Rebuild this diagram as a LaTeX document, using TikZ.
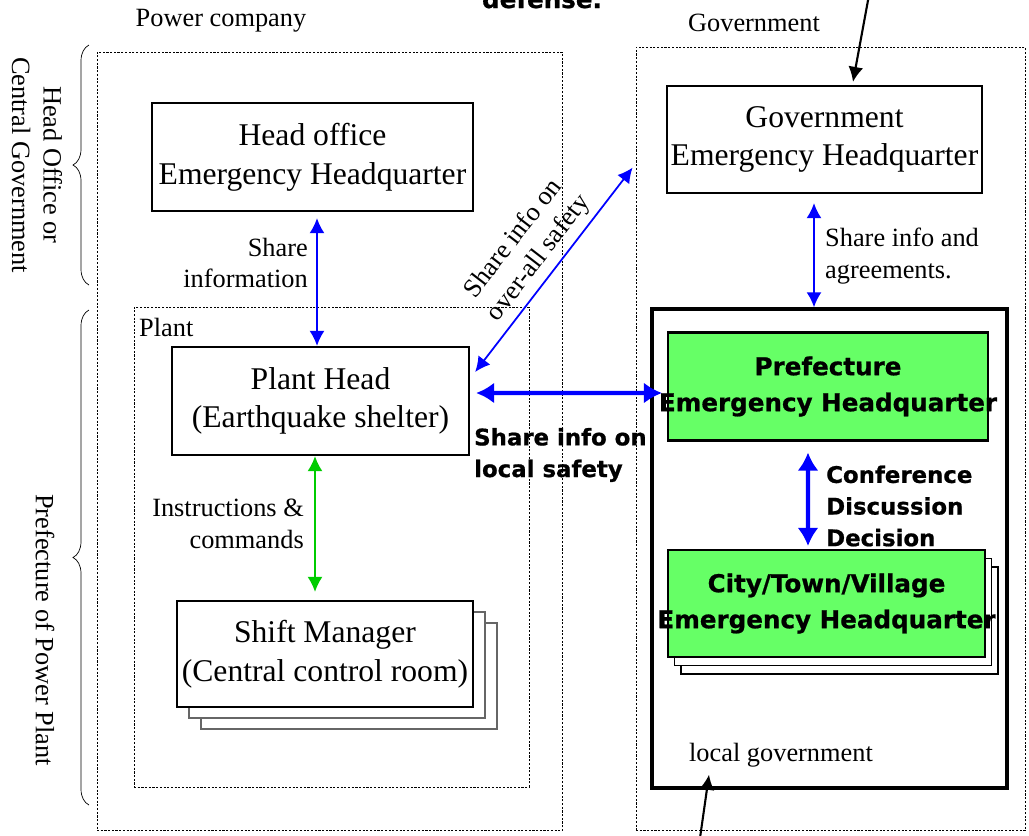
\documentclass[tikz,border=0pt]{standalone}
\usepackage{fontspec}
\setmainfont{Liberation Serif}
\newfontfamily\heavyfont{DejaVu Sans}[BoldFeatures={FakeBold=0.8}]
\usetikzlibrary{arrows.meta,decorations.pathreplacing,shadows}

\definecolor{sharecolor}{RGB}{0,0,255}
\definecolor{ordercolor}{RGB}{0,204,0}
\definecolor{hqgreen}{RGB}{102,255,102}

\newcommand{\hqfont}{\fontsize{18}{22}\selectfont}
\newcommand{\notefont}{\fontsize{15}{18}\selectfont}
\newcommand{\boldnote}{\heavyfont\bfseries\fontsize{13}{18}\selectfont}
\newcommand{\boldhq}{\heavyfont\bfseries\fontsize{14}{20.5}\selectfont}

\begin{document}
\begin{tikzpicture}[x=0.02cm, y=-0.02cm,
    >={Latex[length=0.3cm,width=0.3cm]},
    hqbox/.style={draw, line width=1.3pt, minimum height=2.16cm, align=center, font=\hqfont, inner sep=0pt},
    greenbox/.style={draw, fill=hqgreen, line width=1.2pt, minimum width=6.4cm, minimum height=2.16cm, align=center, font=\boldhq, inner sep=0pt},
    region/.style={draw, line width=0.5pt, dash pattern=on 1.2pt off 0.9pt, inner sep=0pt},
    note/.style={font=\notefont},
    share/.style={sharecolor, line width=1pt},
    bigshare/.style={sharecolor, line width=2.3pt, >={Latex[length=0.36cm,width=0.42cm]}},
    order/.style={ordercolor, line width=1pt},
    pointer/.style={black, line width=1.2pt}]
    \useasboundingbox (0,0) rectangle (1029,836);

    % Regions
    \node[region, minimum width=9.3cm, minimum height=15.58cm] (powerco) at (329.5,441.5) {};
    \node[region, minimum width=7.78cm, minimum height=15.68cm] (govarea) at (830.5,439) {};
    \node[region, minimum width=7.9cm, minimum height=9.6cm] (plant) at (331.5,547) {};
    \node[draw, line width=2pt, minimum width=7.1cm, minimum height=9.58cm] (localgov) at (829.5,548.5) {};

    \node[note] (powerlabel) at (221,21) {Power company};
    \node[note] (govlabel) at (754,23) {Government};
    \node[note, anchor=west] (plantlabel) at (133,327) {Plant};
    \node[note] (locallabel) at (781,755) {local government};
    \node[font=\boldhq, anchor=base] (defenselabel) at (542,8) {defense.};

    % Levels on the left
    \node[note, rotate=-90, align=center] (toplevel) at (37,165) {Head Office or\\Central Government};
    \node[note, rotate=-90] (prefplant) at (45,630) {Prefecture of Power Plant};
    \draw[decorate, decoration={brace, amplitude=0.32cm}] (89,285) -- (89,45);
    \draw[decorate, decoration={brace, amplitude=0.32cm}] (89,805) -- (89,310);

    % Headquarters
    \node[hqbox, minimum width=6.42cm] (headoffice) at (312.5,157) {Head office\\Emergency Headquarter};
    \node[hqbox, minimum width=5.94cm] (planthead) at (320.5,401) {Plant Head\\(Earthquake shelter)};
    \node[hqbox, minimum width=5.92cm, minimum height=2.12cm, fill=white,
        double copy shadow={shadow xshift=0.24cm, shadow yshift=-0.22cm, fill=white, draw=black!60, line width=0.7pt}]
        (shiftmgr) at (325,654) {Shift Manager\\(Central control room)};
    \node[hqbox, minimum width=6.3cm, minimum height=2.14cm] (govhq) at (824.5,139.5) {Government\\Emergency Headquarter};
    \node[greenbox] (prefecture) at (828,386.5) {Prefecture\\\makebox[0pt]{Emergency Headquarter}};
    \node[greenbox, minimum width=6.34cm, minimum height=2.14cm,
        double copy shadow={shadow xshift=0.13cm, shadow yshift=-0.17cm, fill=white, draw=black, line width=1pt}]
        (city) at (826.5,603.5) {City/Town/Village\\\makebox[0pt]{Emergency Headquarter}};

    % Pointers from outside
    \coordinate (govsrc) at (869,-5);
    \draw[pointer, ->] (govsrc) -- ([xshift=0.57cm, yshift=0.06cm]govhq.north);
    \coordinate (localsrc) at (699,845);
    \draw[pointer, ->] (localsrc) -- ([xshift=-2.41cm, yshift=0.3cm]localgov.south);

    % Information flows
    \draw[share, <->, shorten <=0.12cm] ([xshift=0.09cm]headoffice.south) -- ([xshift=-0.07cm]planthead.north);
    \draw[order, <->, shorten >=0.16cm] ([xshift=-0.11cm]planthead.south) -- ([xshift=-0.2cm]shiftmgr.north);
    \draw[share, <->] ([xshift=0.1cm, yshift=0.58cm]planthead.east) -- ([xshift=-0.06cm, yshift=-2.42cm]govarea.north west)
        node[midway, sloped, above, note, text=black, align=center] (overall) {Share info on\\over-all safety};
    \draw[bigshare, <->, shorten <=0.12cm, shorten >=0.1cm] ([yshift=0.16cm]planthead.east) -- ([yshift=-0.13cm]prefecture.west);
    \draw[share, <->, shorten <=0.18cm] ([xshift=-0.21cm]govhq.south) -- ([xshift=-0.31cm]localgov.north);
    \draw[bigshare, <->, shorten <=0.22cm, shorten >=0.06cm] ([xshift=-0.4cm]prefecture.south) -- ([xshift=-0.37cm]city.north);

    % Flow labels
    \node[note, align=right, anchor=east] (shareinfo) at (314,263) {Share\\information};
    \node[note, align=right, anchor=east] (instructions) at (310,524) {Instructions \&\\commands};
    \node[note, align=left, anchor=west] (agreements) at (819,256) {Share info and\\agreements.};
    \node[font=\boldnote, align=left, anchor=west] (localsafety) at (468,455) {Share info on\\local safety};
    \node[font=\boldnote, align=left, anchor=west] (conference) at (820,506) {Conference\\Discussion\\Decision};
\end{tikzpicture}
\end{document}
